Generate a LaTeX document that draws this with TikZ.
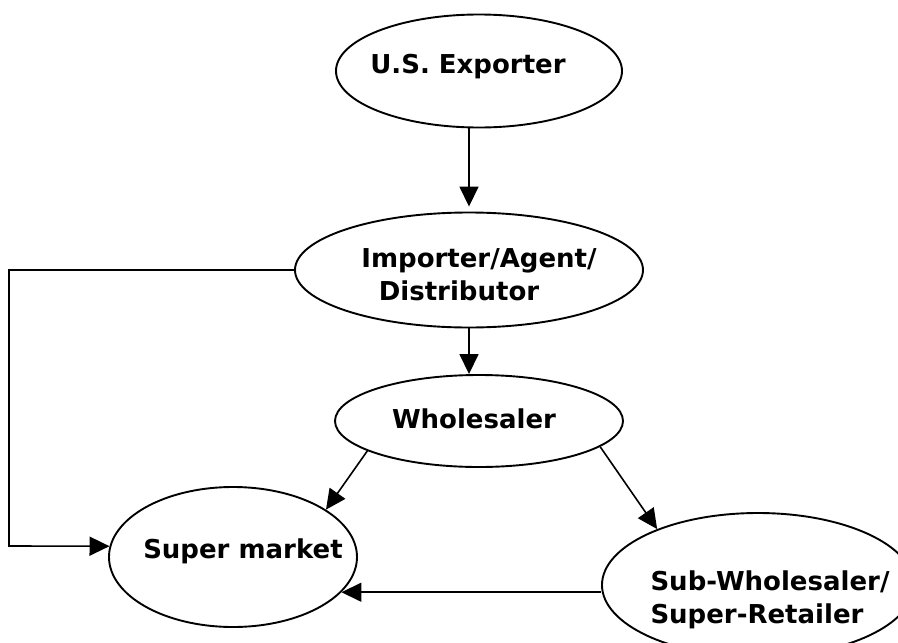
\documentclass[tikz,border=0pt]{standalone}
\usepackage{fontspec}
\setmainfont{DejaVu Sans}
\usetikzlibrary{shapes.geometric,arrows.meta}
\begin{document}
\begin{tikzpicture}[x=1pt,y=-1pt,
  ell/.style={ellipse,draw,line width=1.9pt,inner sep=0pt},
  lbl/.style={anchor=base,inner sep=0pt,font=\bfseries\fontsize{26}{30}\selectfont},
  conn/.style={line width=1.6pt,-{Triangle[length=20pt,width=19pt]}}]
\useasboundingbox (0,0) rectangle (898,643);
\clip (0,0) rectangle (898,643);
% ellipses
\node[ell,minimum width=286pt,minimum height=113pt] (exp) at (479,71) {};
\node[ell,minimum width=348pt,minimum height=115pt] (imp) at (469,270) {};
\node[ell,minimum width=288pt,minimum height=92pt] (whole) at (479,421) {};
\node[ell,minimum width=248pt,minimum height=140pt] (super) at (233,557) {};
\node[ell,minimum width=312pt,minimum height=144pt] (sub) at (758,585) {};
% labels
\node[lbl] (exp-t) at (468,73) {U.S. Exporter};
\node[lbl] (imp-t1) at (479,267) {Importer/Agent/};
\node[lbl] (imp-t2) at (459,300) {Distributor};
\node[lbl] (whole-t) at (474,428) {Wholesaler};
\node[lbl] (super-t) at (243,558) {Super market};
\node[lbl] (sub-t1) at (770,590) {Sub-Wholesaler/};
\node[lbl] (sub-t2) at (757,623) {Super-Retailer};
% connectors
\coordinate (lc) at (9,546);
\draw[conn,shorten >=5pt] (exp.south -| imp.north) -- (imp.north);
\draw[conn] (imp.south) -- (imp.south |- whole.north);
\draw[conn] (imp.west) -| (lc) -- (super.175);
\draw[conn] (whole.195) -- (super.27);
\draw[conn] (whole.-12) -- (sub.151);
\draw[conn] (sub.west |- super.-18) -- (super.-18);
\end{tikzpicture}
\end{document}
